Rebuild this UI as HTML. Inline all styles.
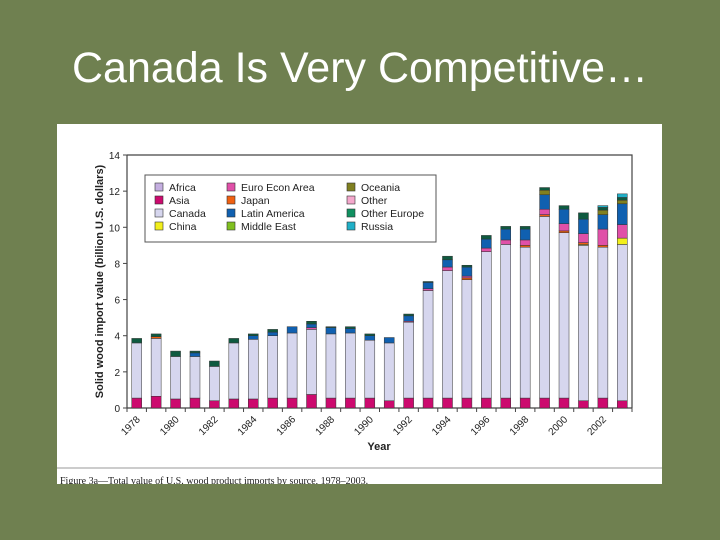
<!DOCTYPE html>
<html><head><meta charset="utf-8"><style>
body{margin:0;width:720px;height:540px;background:#6f8050;overflow:hidden;font-family:"Liberation Sans",sans-serif}
#title{position:absolute;left:0;width:720px;top:44px;text-align:center;color:#fff;font-size:43px}
#fig{position:absolute;left:57px;top:124px;width:605px;height:360px;background:#fff}
</style></head><body>
<div id="title">Canada Is Very Competitive…</div>
<div id="fig">
<svg id="chart" width="605" height="360"></svg>
</div>
<script>
const years=[1978,1979,1980,1981,1982,1983,1984,1985,1986,1987,1988,1989,1990,1991,1992,1993,1994,1995,1996,1997,1998,1999,2000,2001,2002,2003];
const seriesNames=["Asia","Canada","China","Japan","Euro Econ Area","Latin America","Oceania","Other Europe","Russia"];
const seriesColors=["#cc0a6e","#d6d6ee","#f2ef1c","#f06010","#e050a8","#1060b0","#808020","#0e5a40","#20b0c8"];
const asia=[.55,.65,.5,.55,.4,.5,.5,.55,.55,.75,.55,.55,.55,.4,.55,.55,.55,.55,.55,.55,.55,.55,.55,.4,.55,.4];
const china=[0,0,0,0,0,0,0,0,0,0,0,0,0,0,0,0,0,0,0,0,0,0,0,.05,0,.35];
const canada=[3.05,3.2,2.35,2.3,1.9,3.1,3.3,3.45,3.6,3.6,3.55,3.6,3.2,3.2,4.2,5.95,7.05,6.55,8.1,8.5,8.35,10.05,9.15,8.6,8.35,8.65];
const japan=[0,.1,0,0,0,0,0,0,0,0,0,0,0,0,0,0,0,.1,0,0,.1,.1,.1,.1,.1,0];
const euro=[0,0,0,0,0,0,0,0,0,.1,0,0,0,0,.05,.1,.2,.1,.2,.25,.3,.3,.4,.5,.9,.75];
const latin=[0,0,0,.2,0,0,.2,.2,.35,.2,.35,.25,.25,.3,.3,.35,.4,.5,.5,.6,.6,.8,.8,.8,.8,1.15];
const oceania=[0,0,0,0,0,0,0,0,0,0,0,0,0,0,0,0,0,0,0,0,0,.25,0,0,.25,.2];
const otherEurope=[.25,.15,.3,.1,.3,.25,.1,.15,0,.15,.05,.1,.1,0,.1,.05,.2,.1,.2,.15,.15,.15,.2,.35,.15,.15];
const russia=[0,0,0,0,0,0,0,0,0,0,0,0,0,0,0,0,0,0,0,0,0,0,0,0,.1,.2];
const yTicks=[0,2,4,6,8,10,12,14];
const legendItems=[["Africa","#c4aee0"],["Asia","#cc0a6e"],["Canada","#d6d6ee"],["China","#f2ef1c"],["Euro Econ Area","#e050a8"],["Japan","#f06010"],["Latin America","#1060b0"],["Middle East","#80c020"],["Oceania","#808020"],["Other","#f4a8cc"],["Other Europe","#109060"],["Russia","#20b0c8"]];
const series=[asia,canada,china,japan,euro,latin,oceania,otherEurope,russia];
const NS="http://www.w3.org/2000/svg";
const svg=document.getElementById('chart');
const L=70,R=575,T=31,B=284;
const y=v=>B-(v/14)*(B-T);
const slot=(R-L)/years.length;
const x=i=>L+slot*(i+0.5);
function mk(t,a,p){const e=document.createElementNS(NS,t);for(const k in a)e.setAttribute(k,a[k]);(p||svg).appendChild(e);return e;}
let ax=mk('path',{d:`M${L} ${T}H${R}V${B}M${L} ${T}V${B}H${R}`,stroke:'#444',fill:'none','stroke-width':1.2});

yTicks.forEach(v=>{
 mk('line',{x1:L-4,x2:L,y1:y(v),y2:y(v),stroke:'#444'});
 const t=mk('text',{x:L-7,y:y(v)+4,'text-anchor':'end','font-size':10,fill:'#222'});t.textContent=v;
 
});
for(let i=0;i<=years.length;i++)mk('line',{x1:L+slot*i,x2:L+slot*i,y1:B,y2:B+4,stroke:'#444'});
years.forEach((yr,i)=>{
 if(yr%2==0){const t=mk('text',{x:x(i)+4,y:B+12,'text-anchor':'end','font-size':10,fill:'#222',transform:`rotate(-45 ${x(i)+4} ${B+12})`});t.textContent=yr;
 }
 let base=0;
 series.forEach((s,k)=>{const v=s[i];if(!v)return;
  const r=mk('rect',{x:x(i)-5,width:10,y:y(base+v),height:y(base)-y(base+v),fill:seriesColors[k],stroke:'#333','stroke-width':0.5});
  
  
  base+=v;});
});
let yl=mk('text',{x:0,y:0,transform:`translate(46 ${(T+B)/2}) rotate(-90)`,'text-anchor':'middle','font-size':11,'font-weight':'bold',fill:'#222'});yl.textContent='Solid wood import value (billion U.S. dollars)';

let xl=mk('text',{x:322,y:326,'text-anchor':'middle','font-size':11,'font-weight':'bold',fill:'#222'});xl.textContent='Year';

const lg=mk('g',{});
mk('rect',{x:88,y:51,width:291,height:67,fill:'#fff',stroke:'#555'},lg);
const colX=[98,170,290];
legendItems.forEach((it,j)=>{const c=Math.floor(j/4),r=j%4;const lx=colX[c],ly=59+r*13;
 const g=mk('g',{},lg);
 mk('rect',{x:lx,y:ly,width:8,height:8,fill:it[1],stroke:'#333','stroke-width':.6},g);
 const t=mk('text',{x:lx+14,y:ly+8,'font-size':10.5,fill:'#222'},g);t.textContent=it[0];});
mk('line',{x1:0,x2:605,y1:344,y2:344,stroke:'#999'});
let cap=mk('text',{x:3,y:360,'font-size':10,'font-family':'Liberation Serif, serif',fill:'#222'});cap.textContent='Figure 3a—Total value of U.S. wood product imports by source, 1978–2003.';

</script>
</body></html>
